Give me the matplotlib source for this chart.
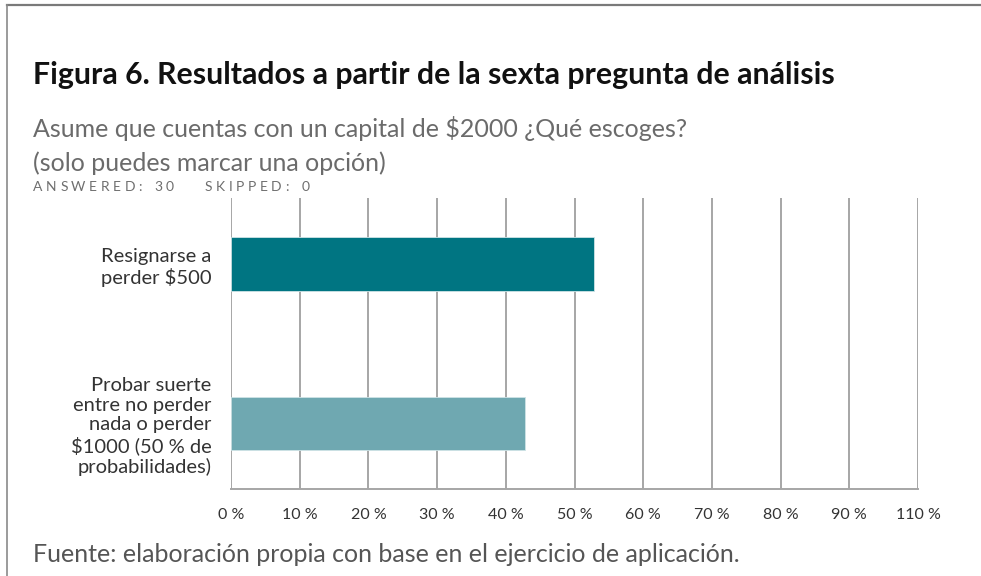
import matplotlib
matplotlib.use('Agg')
import matplotlib.pyplot as plt
from matplotlib.lines import Line2D

# Chart data
CATEGORIES = ['Resignarse a\nperder $500',
              'Probar suerte\nentre no perder\nnada o perder\n$1000 (50 % de\nprobabilidades)']
PERCENTS = [52.8, 42.8]
BAR_COLORS = ['#007582', '#6fa8b1']
TICK_VALUES = [0, 10, 20, 30, 40, 50, 60, 70, 80, 90, 100]
TICK_LABELS = ['0 %', '10 %', '20 %', '30 %', '40 %', '50 %', '60 %', '70 %', '80 %', '90 %', '110 %']

TITLE = 'Figura 6. Resultados a partir de la sexta pregunta de análisis'
QUESTION_LINES = ['Asume que cuentas con un capital de $2000 ¿Qué escoges?',
                  '(solo puedes marcar una opción)']
STATS = 'ANSWERED: 30   SKIPPED: 0'
SOURCE = 'Fuente: elaboración propia con base en el ejercicio de aplicación.'

GRID_COLOR = '#a6a6a6'
W, H = 981, 576


# Draw text letter by letter with extra tracking (pixels)
def TrackedText(fig, x, y, text, tracking, space, **kw):
    renderer = fig.canvas.get_renderer()
    for ch in text:
        if ch == ' ':
            x += space
            continue
        t = fig.text(x / W, 1 - y / H, ch, va='baseline', ha='left', **kw)
        x += t.get_window_extent(renderer).width + tracking


def main():
    plt.rcParams['font.family'] = ['Lato', 'DejaVu Sans']
    fig = plt.figure(figsize=(9.81, 5.76), dpi=100)

    # frame lines (top and left only)
    fig.add_artist(Line2D([7 / W, 1], [1 - 5 / H, 1 - 5 / H], color='#7a7a7a', lw=1.6,
                          transform=fig.transFigure))
    fig.add_artist(Line2D([7 / W, 7 / W], [0, 1 - 5 / H], color='#8a8a8a', lw=1.2,
                          transform=fig.transFigure))

    # text blocks
    fig.text(33 / W, 1 - 84 / H, TITLE, fontsize=21.8, fontweight='bold', color='#111111',
             va='baseline', ha='left')
    for i, line in enumerate(QUESTION_LINES):
        fig.text(33 / W, 1 - (137 + 34 * i) / H, line, fontsize=18, color='#6b6b6b',
                 va='baseline', ha='left')
    TrackedText(fig, 33, 191, STATS, 3.6, 9, fontsize=10, color='#6e6e6e')
    fig.text(33 / W, 1 - 562 / H, SOURCE, fontsize=18, color='#555555', va='baseline',
             ha='left')

    ax = fig.add_axes([231 / W, 1 - 489 / H, (918 - 231) / W, (489 - 198) / H])
    ypos = list(range(len(CATEGORIES)))
    ax.barh(ypos, PERCENTS, height=0.336, color=BAR_COLORS, edgecolor='#cfe3e6',
            linewidth=0.6, zorder=3)

    ax.set_xlim(0, 100)
    ax.set_ylim(1.41, -0.415)
    ax.set_xticks(TICK_VALUES)
    ax.set_xticklabels(TICK_LABELS, fontsize=11.5, color='#333333')
    ax.set_yticks(ypos)
    ax.set_yticklabels(CATEGORIES, fontsize=14.5, color='#333333', linespacing=1.2)
    ax.tick_params(axis='both', length=0)
    ax.tick_params(axis='x', pad=14)
    ax.tick_params(axis='y', pad=14)

    ax.grid(axis='x', color=GRID_COLOR, lw=1.4, zorder=0)
    for side in ['top', 'left', 'right']:
        ax.spines[side].set_visible(False)
    ax.spines['bottom'].set_color(GRID_COLOR)
    ax.spines['bottom'].set_linewidth(1.4)

    fig.savefig('out.png', dpi=100)


if __name__ == "__main__":
    main()
